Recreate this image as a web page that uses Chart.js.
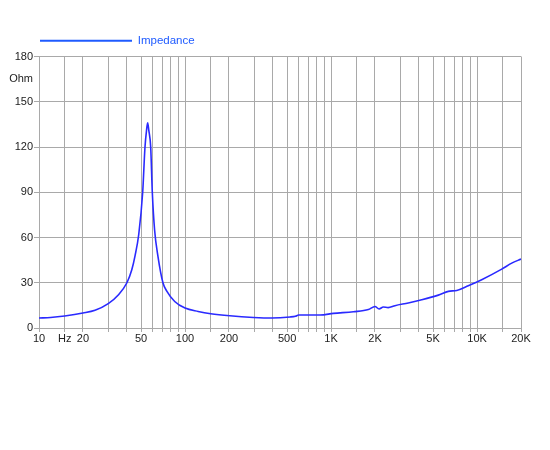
<!doctype html>
<html lang="en">
    <head>
        <meta charset="UTF-8" />
        <title>Impedance</title>
        <script src="https://cdn.jsdelivr.net/npm/chart.js"></script>
        <style>
            html, body { margin: 0; padding: 0; background: #fff; }
            #wrap { width: 550px; height: 450px; position: relative; }
        </style>
    </head>
    <body>
        <div id="wrap"><canvas id="imp"></canvas></div>
        <script>
            // frequency (Hz) and impedance (Ohm)
            const freqs = [10, 12, 15, 20, 24.2, 29.8, 34.9, 40, 43.2, 45.5, 48.2, 51.3, 53.2, 54.5, 55.5, 56.5, 58.2, 59.7, 61.9, 65.3, 70.6, 75, 85, 100, 123, 150, 203, 294, 393, 524, 570, 600, 700, 841, 1038, 1423, 1800, 2000, 2134, 2280, 2460, 2740, 3380, 4180, 5430, 6360, 7260, 8710, 10760, 14760, 17280, 20000]
            const ohms = [6.6, 7.0, 8.0, 9.9, 11.7, 16.1, 21.9, 30, 38.6, 48, 62, 90, 120, 131, 136, 131, 120, 90, 65, 47.4, 30, 24.5, 17.6, 13.2, 11.0, 9.5, 8.1, 7.0, 6.6, 7.3, 7.8, 8.6, 8.6, 8.6, 9.7, 10.8, 12.2, 14.3, 12.6, 13.9, 13.5, 14.8, 16.6, 18.7, 21.8, 24.3, 24.9, 28, 32, 39, 43, 45.7]

            const xGrid = [10, 15, 20, 30, 40, 50, 60, 70, 80, 90, 100, 150, 200, 300, 400, 500, 600, 700, 800, 900, 1000, 1500, 2000, 3000, 4000, 5000, 6000, 7000, 8000, 9000, 10000, 15000, 20000]
            const xLabels = { 10: '10', 15: 'Hz', 20: '20', 50: '50', 100: '100', 200: '200', 500: '500', 1000: '1K', 2000: '2K', 5000: '5K', 10000: '10K', 20000: '20K' }
            const yTicks = [0, 30, 60, 90, 120, 150, 165, 180]
            const yLabels = { 0: '0', 30: '30', 60: '60', 90: '90', 120: '120', 150: '150', 165: 'Ohm', 180: '180' }

            const points = freqs.map((f, i) => ({ x: f, y: ohms[i] }))
            const gridGray = '#a9a9a9'

            new Chart(document.getElementById('imp'), {
                type: 'line',
                data: {
                    datasets: [
                        {
                            label: 'Impedance',
                            data: points,
                            borderColor: '#2a2aff',
                            backgroundColor: '#1f5bff',
                            borderWidth: 1.6,
                            pointRadius: 0,
                            cubicInterpolationMode: 'monotone',
                        },
                    ],
                },
                options: {
                    responsive: true,
                    maintainAspectRatio: false,
                    animation: false,
                    layout: { padding: { left: 0, right: 29, top: 34, bottom: 100 } },
                    plugins: {
                        tooltip: { enabled: false },
                        legend: {
                            align: 'start',
                            fullSize: false,
                            labels: {
                                boxWidth: 92,
                                boxHeight: 2,
                                padding: 1,
                                color: '#1f5bff',
                                font: { family: 'Liberation Sans, Arial', size: 11.5, lineHeight: 1.15 },
                                generateLabels: (chart) => [
                                    { text: 'Impedance', fillStyle: '#1f5bff', strokeStyle: '#1f5bff', lineWidth: 0, fontColor: '#1f5bff', datasetIndex: 0 },
                                ],
                            },
                        },
                    },
                    scales: {
                        x: {
                            type: 'logarithmic',
                            min: 10,
                            max: 20000,
                            afterBuildTicks: (s) => { s.ticks = xGrid.map((v) => ({ value: v })) },
                            afterFit: (s) => { s.height = 22 },
                            grid: { color: gridGray, tickLength: 4 },
                            border: { color: gridGray },
                            ticks: {
                                autoSkip: false,
                                maxRotation: 0,
                                padding: 0,
                                color: '#222',
                                font: { family: 'Liberation Sans, Arial', size: 11 },
                                callback: (v) => xLabels[v] || '',
                            },
                        },
                        y: {
                            min: 0,
                            max: 180,
                            afterBuildTicks: (s) => { s.ticks = yTicks.map((v) => ({ value: v })) },
                            afterFit: (s) => { s.width = 39 },
                            grid: {
                                color: (c) => (c.tick && c.tick.value === 165 ? 'rgba(0,0,0,0)' : gridGray),
                                tickLength: 5,
                            },
                            border: { color: gridGray },
                            ticks: {
                                padding: 1,
                                color: '#222',
                                font: { family: 'Liberation Sans, Arial', size: 11 },
                                callback: (v) => yLabels[v],
                            },
                        },
                    },
                },
            })
        </script>
    </body>
</html>
